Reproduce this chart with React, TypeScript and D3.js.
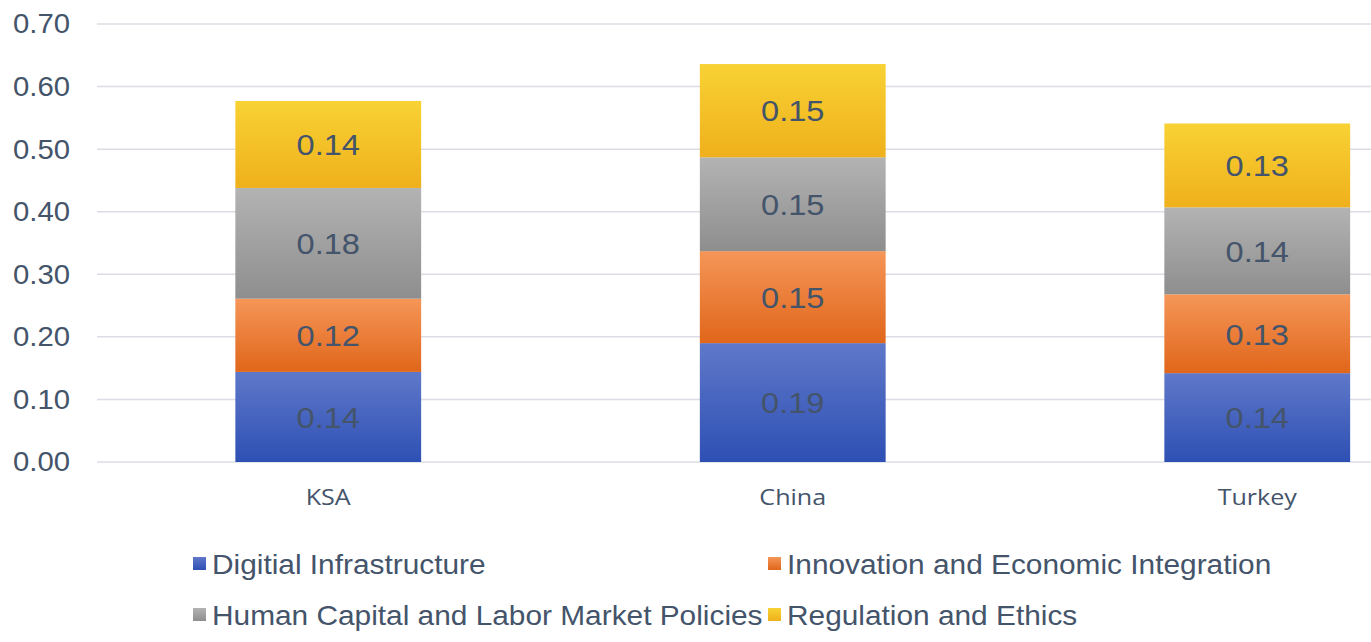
import React, { useEffect, useRef } from 'react';
import * as d3 from 'd3';

// Chart data
const countries: string[] = ['KSA', 'China', 'Turkey'];
const seriesNames: string[] = [
  'Digitial Infrastructure',
  'Innovation and Economic Integration',
  'Human Capital and Labor Market Policies',
  'Regulation and Ethics',
];
const digitalInfrastructure: number[] = [0.144, 0.19, 0.142];
const innovationIntegration: number[] = [0.117, 0.147, 0.126];
const humanCapital: number[] = [0.177, 0.15, 0.139];
const regulationEthics: number[] = [0.139, 0.149, 0.134];
const yTicks: number[] = [0, 0.1, 0.2, 0.3, 0.4, 0.5, 0.6, 0.7];

// gradient stops per series: [top, bottom]
const gradients: [string, string][] = [
  ['#5f78c9', '#2e50b4'],
  ['#f59658', '#e0661a'],
  ['#b3b3b3', '#8e8e8e'],
  ['#f8d234', '#efb01c'],
];

const textColor = '#44546a';
const sans = '"Liberation Sans", Arial, sans-serif';
// the original picture is a little wider than tall, so text is stretched
const stretch = 1.085;

const App: React.FC = () => {
  const svgRef = useRef<SVGSVGElement>(null);

  useEffect(() => {
    if (!svgRef.current) return;
    const svg = d3.select(svgRef.current);
    svg.selectAll('*').remove();

    const width = 1371;

    const allSeries = [digitalInfrastructure, innovationIntegration, humanCapital, regulationEthics];
    const rows = countries.map((c, i) => {
      const row: any = { country: c };
      seriesNames.forEach((s, k) => { row[s] = allSeries[k][i]; });
      return row;
    });
    const stacked = d3.stack<any>().keys(seriesNames)(rows);

    // x band extends past the right edge (the original is cropped)
    const x = d3.scaleBand<string>()
      .domain(countries)
      .range([96, 1489.5])
      .paddingInner(0.6)
      .paddingOuter(0.3);

    const y = d3.scaleLinear()
      .domain([0, 0.7])
      .range([462, 24]);

    const defs = svg.append('defs');
    gradients.forEach((g, k) => {
      const lg = defs.append('linearGradient')
        .attr('id', `grad${k}`)
        .attr('x1', 0).attr('y1', 0).attr('x2', 0).attr('y2', 1);
      lg.append('stop').attr('offset', '0%').attr('stop-color', g[0]);
      lg.append('stop').attr('offset', '100%').attr('stop-color', g[1]);
    });

    // gridlines
    svg.append('g')
      .selectAll('line')
      .data(yTicks)
      .enter()
      .append('line')
      .attr('x1', 97)
      .attr('x2', width)
      .attr('y1', d => y(d))
      .attr('y2', d => y(d))
      .attr('stroke', '#dcdce6')
      .attr('stroke-width', 1.5);

    // y tick labels
    svg.append('g')
      .selectAll('text')
      .data(yTicks)
      .enter()
      .append('text')
      .attr('transform', d => `translate(70, ${y(d)}) scale(${stretch}, 1)`)
      .attr('dy', '0.35em')
      .attr('text-anchor', 'end')
      .attr('font-family', sans)
      .attr('font-size', 27)
      .attr('fill', textColor)
      .text(d => d3.format('.2f')(d));

    // stacked bars
    const layers = svg.append('g')
      .selectAll('g')
      .data(stacked)
      .enter()
      .append('g')
      .attr('fill', (_, k) => `url(#grad${k})`);

    layers.selectAll('rect')
      .data(d => d)
      .enter()
      .append('rect')
      .attr('x', d => x(d.data.country) as number)
      .attr('width', x.bandwidth())
      .attr('y', d => y(d[1]))
      .attr('height', d => y(d[0]) - y(d[1]));

    // data labels
    layers.selectAll('text')
      .data(d => d)
      .enter()
      .append('text')
      .attr('transform', d => {
        const cx = (x(d.data.country) as number) + x.bandwidth() / 2;
        const cy = (y(d[0]) + y(d[1])) / 2;
        return `translate(${cx}, ${cy}) scale(${stretch}, 1)`;
      })
      .attr('dy', '0.36em')
      .attr('text-anchor', 'middle')
      .attr('font-family', sans)
      .attr('font-size', 30)
      .attr('fill', textColor)
      .text(d => d3.format('.2f')(d[1] - d[0]));

    // x labels
    svg.append('g')
      .selectAll('text')
      .data(countries)
      .enter()
      .append('text')
      .attr('transform', d => `translate(${(x(d) as number) + x.bandwidth() / 2}, 505) scale(1.14, 1)`)
      .attr('text-anchor', 'middle')
      .attr('font-family', '"Open Sans", sans-serif')
      .attr('font-size', 22)
      .attr('fill', textColor)
      .text(d => d);

    // legend, two columns
    const legendPos = [
      { x: 193, y: 564 },
      { x: 768, y: 564 },
      { x: 193, y: 615 },
      { x: 768, y: 615 },
    ];
    const legend = svg.append('g')
      .selectAll('g')
      .data(seriesNames)
      .enter()
      .append('g')
      .attr('transform', (_, k) => `translate(${legendPos[k].x}, ${legendPos[k].y})`);

    legend.append('rect')
      .attr('x', 0)
      .attr('y', -7)
      .attr('width', 13)
      .attr('height', 13)
      .attr('fill', (_, k) => `url(#grad${k})`);

    legend.append('text')
      .attr('transform', `translate(19, 0) scale(${stretch}, 1)`)
      .attr('dy', '0.35em')
      .attr('font-family', sans)
      .attr('font-size', 27.5)
      .attr('fill', textColor)
      .text(d => d);
  }, []);

  return (
    <div style={{ position: 'absolute', left: 0, top: 0, width: 1371, height: 642, background: '#fff' }}>
      <style>{'body{margin:0}'}</style>
      <svg ref={svgRef} width={1371} height={642} style={{ display: 'block' }} />
    </div>
  );
};

export default App;
